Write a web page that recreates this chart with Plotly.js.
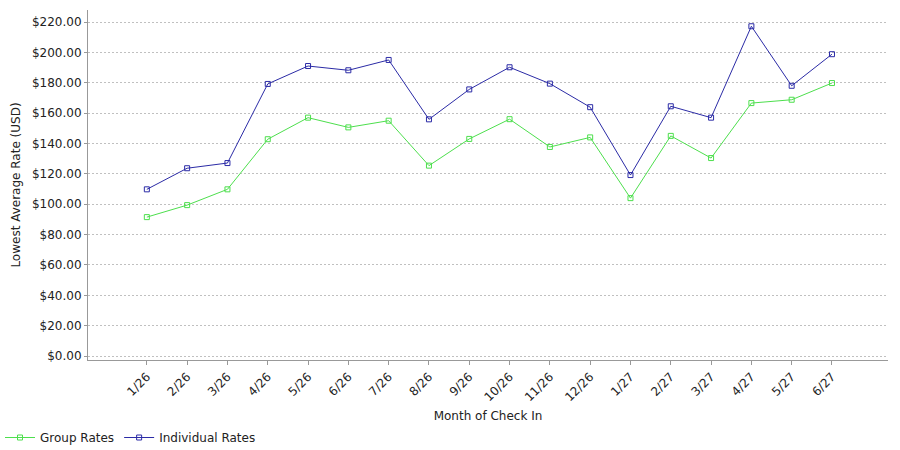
<!DOCTYPE html>
<html>
<head>
<meta charset="utf-8">
<script src="https://cdn.plot.ly/plotly-3.0.1.min.js"></script>
<style>html,body{margin:0;padding:0;background:#fff;}#chart{width:900px;height:450px;}</style>
</head>
<body>
<div id="chart"></div>
<script>
var months = ["1/26","2/26","3/26","4/26","5/26","6/26","7/26","8/26","9/26","10/26","11/26","12/26","1/27","2/27","3/27","4/27","5/27","6/27"];
var groupRates = [91.5, 99.4, 109.8, 142.8, 157, 150.6, 155, 125.4, 143, 156, 137.7, 144, 104, 145, 130.4, 166.6, 168.8, 179.8];
var individualRates = [109.8, 123.7, 127.1, 179.2, 191, 188.2, 195, 155.9, 175.6, 190.2, 179.4, 163.9, 119.2, 164.5, 157, 217.2, 178, 198.8];
var yTickVals = [0,20,40,60,80,100,120,140,160,180,200,220];
var yTickText = yTickVals.map(function(v){return "$" + v.toFixed(2);});

var font = "DejaVu Sans, sans-serif";
var traces = [
  {x: months, y: groupRates, name: "Group Rates", type: "scatter", mode: "lines+markers",
   line: {color: "#4ddf4d", width: 1},
   marker: {symbol: "square-open", size: 5, color: "#4ddf4d", line: {width: 1}}},
  {x: months, y: individualRates, name: "Individual Rates", type: "scatter", mode: "lines+markers",
   line: {color: "#2b2ba6", width: 1},
   marker: {symbol: "square-open", size: 5, color: "#2b2ba6", line: {width: 1}}}
];
var layout = {
  width: 900, height: 450,
  margin: {l: 88, r: 12, t: 10, b: 90},
  paper_bgcolor: "#fff", plot_bgcolor: "#fff",
  font: {family: font, size: 12, color: "#222"},
  showlegend: true,
  legend: {orientation: "h", xref: "container", yref: "container", x: 0, xanchor: "left", y: 0.06, yanchor: "top",
           font: {family: font, size: 12, color: "#222"}, itemwidth: 30, tracegroupgap: 0},
  xaxis: {type: "category", range: [-1.46, 18.39], showgrid: false, zeroline: false, automargin: false,
          showline: true, linecolor: "#999", linewidth: 1,
          ticks: "outside", ticklen: 4, tickcolor: "#999", tickangle: -45,
          tickfont: {family: font, size: 12, color: "#222"},
          title: {text: "Month of Check In", font: {family: font, size: 12, color: "#222"}, standoff: 8}},
  yaxis: {range: [-2.6, 227.9], tickvals: yTickVals, ticktext: yTickText, automargin: false,
          showgrid: true, gridcolor: "#c0c0c0", griddash: "2px,2px", gridwidth: 1,
          zeroline: false, showline: true, linecolor: "#999", linewidth: 1,
          ticks: "outside", ticklen: 3, tickcolor: "#999",
          tickfont: {family: font, size: 12, color: "#222"},
          title: {text: "Lowest Average Rate (USD)", font: {family: font, size: 12, color: "#222"}, standoff: 8}}
};
Plotly.newPlot("chart", traces, layout, {displayModeBar: false, staticPlot: true});
</script>
</body>
</html>
